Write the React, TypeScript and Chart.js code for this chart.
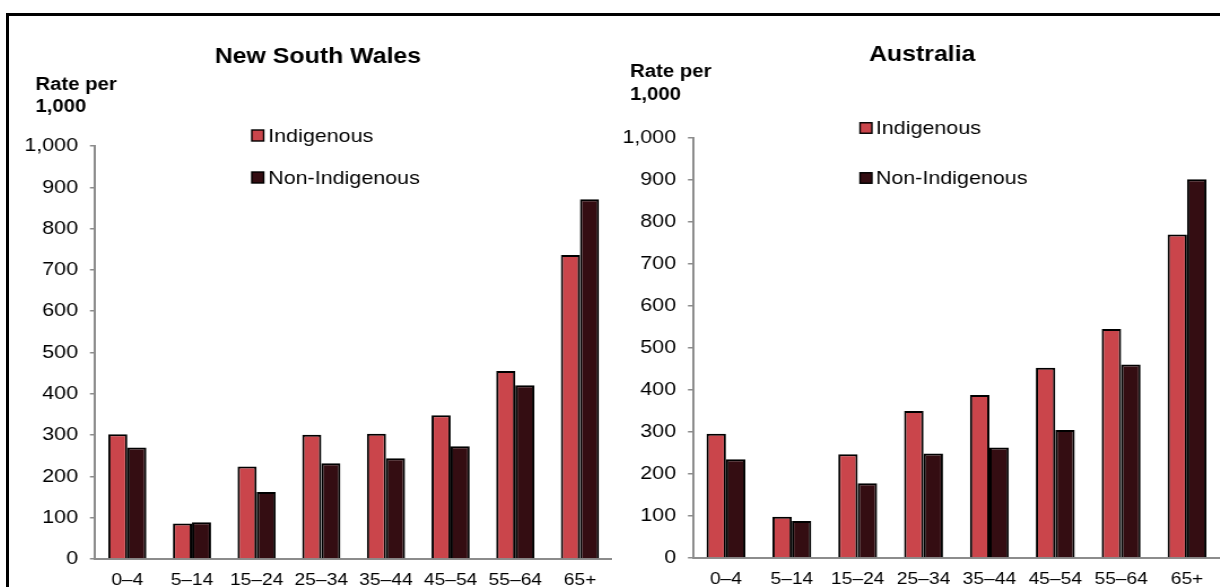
import React, { useEffect, useRef } from "react";
import { Chart, registerables } from "chart.js";

Chart.register(...registerables);

// ---- Data ----
const CATEGORIES = ["0–4", "5–14", "15–24", "25–34", "35–44", "45–54", "55–64", "65+"];
const SERIES_NAMES = ["Indigenous", "Non-Indigenous"];
const NSW_INDIGENOUS = [302, 86, 224, 301, 303, 348, 455, 736];
const NSW_NON_INDIGENOUS = [270, 89, 162, 232, 244, 273, 421, 871];
const AUS_INDIGENOUS = [296, 98, 247, 350, 388, 453, 545, 770];
const AUS_NON_INDIGENOUS = [235, 88, 178, 249, 263, 305, 461, 902];
const Y_MIN = 0;
const Y_MAX = 1000;
const Y_STEP = 100;
const PANEL_TITLES = ["New South Wales", "Australia"];
const Y_AXIS_LABEL = ["Rate per", "1,000"];

// ---- Styles ----
const FONT = '"Liberation Sans", Arial, Helvetica, sans-serif';
const COLOR_INDIGENOUS = "#CA454B";
const COLOR_NON_INDIGENOUS = "#340D12";
const AXIS_COLOR = "#8c8c8c";
const STRETCH = 1.13;

const annotationPlugin = {
  id: "panelAnnotations",
  afterDraw(chart: any, _args: any, opts: any) {
    const ctx = chart.ctx;
    ctx.save();
    ctx.fillStyle = "#000";
    ctx.textBaseline = "alphabetic";
    // Title
    ctx.font = `bold ${opts.titleSize}px ${FONT}`;
    ctx.textAlign = "center";
    ctx.fillText(opts.title, opts.titleX, opts.titleY);
    // Y axis label (two lines)
    ctx.font = `bold ${opts.labelSize}px ${FONT}`;
    ctx.textAlign = "left";
    ctx.fillText(opts.yLabel1, opts.labelX, opts.labelY1);
    ctx.fillText(opts.yLabel2, opts.labelX, opts.labelY2);
    // Legend
    ctx.font = `${opts.legendSize}px ${FONT}`;
    ctx.textBaseline = "middle";
    chart.data.datasets.forEach((ds: any, i: number) => {
      const cy = opts.legendY[i];
      const w = opts.boxW;
      const h = opts.boxH;
      ctx.fillStyle = ds.backgroundColor;
      ctx.fillRect(opts.boxX, cy - h / 2, w, h);
      ctx.lineWidth = 1.4;
      ctx.strokeStyle = "#000";
      ctx.strokeRect(opts.boxX, cy - h / 2, w, h);
      ctx.fillStyle = "#000";
      ctx.fillText(ds.label, opts.textX, cy + 1);
    });
    ctx.restore();
  },
};

type PanelProps = {
  title: string;
  indigenous: number[];
  nonIndigenous: number[];
  left: number;
  width: number;
  height: number;
  padTop: number;
  padRight: number;
  yWidth: number;
  xHeight: number;
  annot: any;
};

function Panel(props: PanelProps) {
  const ref = useRef<HTMLCanvasElement | null>(null);
  useEffect(() => {
    if (!ref.current) return;
    const chart = new Chart(ref.current, {
      type: "bar",
      data: {
        labels: CATEGORIES,
        datasets: [
          {
            label: SERIES_NAMES[0],
            data: props.indigenous,
            backgroundColor: COLOR_INDIGENOUS,
            borderColor: "#000",
            borderWidth: 2,
            categoryPercentage: 0.59,
            barPercentage: 1.0,
          },
          {
            label: SERIES_NAMES[1],
            data: props.nonIndigenous,
            backgroundColor: COLOR_NON_INDIGENOUS,
            borderColor: "#000",
            borderWidth: 2,
            categoryPercentage: 0.59,
            barPercentage: 1.0,
          },
        ],
      },
      options: {
        responsive: false,
        animation: false,
        layout: { padding: { top: props.padTop, right: props.padRight, left: 0, bottom: 0 } },
        plugins: {
          legend: { display: false },
          title: { display: false },
          tooltip: { enabled: false },
          panelAnnotations: {
            title: props.title,
            yLabel1: Y_AXIS_LABEL[0],
            yLabel2: Y_AXIS_LABEL[1],
            ...props.annot,
          },
        } as any,
        scales: {
          x: {
            type: "category",
            offset: true,
            grid: { display: false, drawTicks: false },
            border: { display: true, color: AXIS_COLOR, width: 2 },
            ticks: {
              color: "#000",
              font: { family: FONT, size: 17 },
              padding: 11,
              maxRotation: 0,
              autoSkip: false,
            },
            afterFit: (s: any) => {
              s.height = props.xHeight;
            },
          },
          y: {
            min: Y_MIN,
            max: Y_MAX,
            grid: {
              display: true,
              drawOnChartArea: false,
              drawTicks: true,
              tickLength: 4.5,
              color: AXIS_COLOR,
              lineWidth: 1.5,
            },
            border: { display: true, color: AXIS_COLOR, width: 2 },
            ticks: {
              stepSize: Y_STEP,
              color: "#000",
              font: { family: FONT, size: 19 },
              padding: 10.5,
              callback: (v: any) => Number(v).toLocaleString("en-US"),
            },
            afterFit: (s: any) => {
              s.width = props.yWidth;
            },
          },
        },
      },
      plugins: [annotationPlugin],
    });
    return () => chart.destroy();
  }, []);

  return (
    <div
      style={{
        position: "absolute",
        left: props.left,
        top: 17,
        width: props.width,
        height: props.height,
        transform: `scaleX(${STRETCH})`,
        transformOrigin: "0 0",
      }}
    >
      <canvas
        ref={ref}
        width={props.width}
        height={props.height}
        style={{ width: props.width, height: props.height, display: "block" }}
      />
    </div>
  );
}

export default function App() {
  return (
    <div
      style={{
        position: "absolute",
        left: 0,
        top: 0,
        width: 1220,
        height: 587,
        overflow: "hidden",
        background: "#fff",
      }}
    >
      <div
        style={{
          position: "absolute",
          left: 6,
          top: 13,
          width: 2000,
          height: 2000,
          border: "3px solid #000",
        }}
      />
      <Panel
        title={PANEL_TITLES[0]}
        indigenous={NSW_INDIGENOUS}
        nonIndigenous={NSW_NON_INDIGENOUS}
        left={10}
        width={533}
        height={600}
        padTop={129}
        padRight={0}
        yWidth={75.2}
        xHeight={58}
        annot={{
          titleSize: 22,
          titleX: 272.5,
          titleY: 46,
          labelSize: 18,
          labelX: 22.5,
          labelY1: 72.5,
          labelY2: 95,
          legendSize: 19,
          legendY: [118.5, 160.5],
          boxX: 214,
          boxW: 10.5,
          boxH: 11,
          textX: 228.5,
        }}
      />
      <Panel
        title={PANEL_TITLES[1]}
        indigenous={AUS_INDIGENOUS}
        nonIndigenous={AUS_NON_INDIGENOUS}
        left={612}
        width={545}
        height={600}
        padTop={121}
        padRight={7}
        yWidth={71.7}
        xHeight={59}
        annot={{
          titleSize: 22,
          titleX: 274.5,
          titleY: 44,
          labelSize: 18,
          labelX: 16,
          labelY1: 60,
          labelY2: 82.5,
          legendSize: 19,
          legendY: [111, 161],
          boxX: 219.5,
          boxW: 10.5,
          boxH: 10.5,
          textX: 233.5,
        }}
      />
    </div>
  );
}
